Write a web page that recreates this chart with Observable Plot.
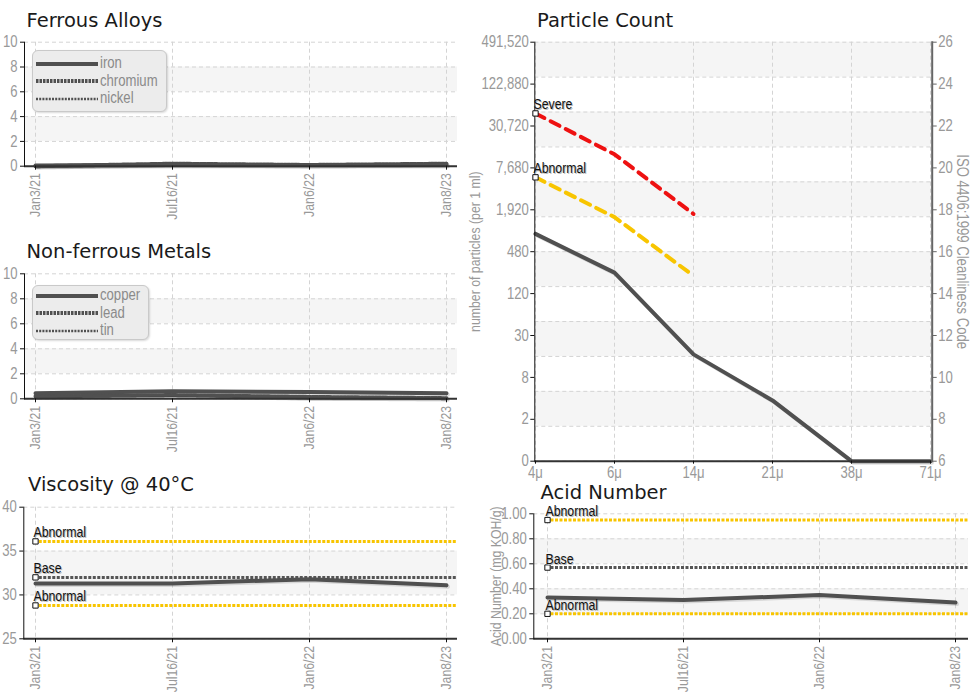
<!DOCTYPE html>
<html>
<head>
<meta charset="utf-8">
<script src="https://cdn.jsdelivr.net/npm/d3@7"></script>
<script src="https://cdn.jsdelivr.net/npm/@observablehq/plot@0.6"></script>
<style>
  html, body { margin: 0; padding: 0; background: #fff; }
  #root { position: relative; width: 976px; height: 695px; overflow: hidden; }
  .title { position: absolute; font-family: "DejaVu Sans", sans-serif; font-size: 19.5px; line-height: 1; color: #1a1a1a; white-space: nowrap; }
  .chart { position: absolute; }
  .chart svg { overflow: visible; }
  .legend { position: absolute; background: #ececec; border: 1px solid #c9c9c9; border-radius: 6px; box-shadow: 1px 1px 2px rgba(0,0,0,0.15); box-sizing: border-box; }
  .legend .lbl { position: absolute; font-family: "Liberation Sans", Arial, sans-serif; font-size: 16px; color: #8a8a8a; line-height: 16px; white-space: nowrap; transform: scaleX(0.82); transform-origin: 0 50%; }
  .legend svg { position: absolute; overflow: visible; }
</style>
</head>
<body>
<div id="root"></div>
<script>
// ---------------- data ----------------
const dates = ["Jan3/21", "Jul16/21", "Jan6/22", "Jan8/23"];

const iron = [0.05, 0.1, 0.1, 0.1];
const chromium = [0.0, 0.2, 0.1, 0.2];
const nickel = [0.0, 0.1, 0.05, 0.1];

const copper = [0.45, 0.6, 0.55, 0.45];
const lead = [0.2, 0.3, 0.15, 0.05];
const tin = [0.15, 0.3, 0.05, 0.05];

const viscosity = [31.3, 31.3, 31.8, 31.1];
const viscosityLimitValues = [36.1, 32.0, 28.8];
const viscosityLimitLabels = ["Abnormal", "Base", "Abnormal"];

const acidNumber = [0.33, 0.31, 0.35, 0.29];
const acidLimitValues = [0.95, 0.57, 0.2];
const acidLimitLabels = ["Abnormal", "Base", "Abnormal"];

const metalTicks = [0, 2, 4, 6, 8, 10];
const viscosityTicks = [25, 30, 35, 40];
const acidTicks = [0, 0.2, 0.4, 0.6, 0.8, 1.0];

const particleSizes = ["4μ", "6μ", "14μ", "21μ", "38μ", "71μ"];
const isoCodes = [6, 8, 10, 12, 14, 16, 18, 20, 22, 24, 26];
const countLabels = ["0", "2", "8", "30", "120", "480", "1,920", "7,680", "30,720", "122,880", "491,520"];
const sampleCode = [16.85, 15.0, 11.1, 8.9, 6, 6];
const severeCode = [22.6, 20.65, 17.8];
const abnormalCode = [19.55, 17.65, 14.85];

// ---------------- styles ----------------
const NARROW = '"Liberation Sans", Arial, sans-serif';
const SQUEEZE = 0.82;
const LINE = "#505050";
const GRID = "#d4d4d4";
const BAND = "#f5f5f5";
const YELLOW = "#f8c500";
const RED = "#ee1111";
const lineStyles = {
  solid: {strokeWidth: 4},
  dotted: {strokeWidth: 4, strokeDasharray: "2.5,1"},
  thin: {strokeWidth: 2.5, strokeDasharray: "2,1.2"}
};

const root = document.getElementById("root");

function condense(svg) {
  svg.querySelectorAll("text").forEach((t) => {
    const x = +t.getAttribute("x") || 0;
    const y = +t.getAttribute("y") || 0;
    const tr = t.getAttribute("transform") || "";
    t.setAttribute("transform", `${tr} translate(${x},${y}) scale(${SQUEEZE},1) translate(${-x},${-y})`);
  });
  return svg;
}

function addTitle(text, left, top) {
  const d = document.createElement("div");
  d.className = "title";
  d.textContent = text;
  d.style.left = left + "px";
  d.style.top = top + "px";
  root.appendChild(d);
}

function place(svg, left, top) {
  const d = document.createElement("div");
  d.className = "chart";
  d.style.left = left + "px";
  d.style.top = top + "px";
  d.appendChild(condense(svg));
  root.appendChild(d);
}

function addLegend(box, rows) {
  const d = document.createElement("div");
  d.className = "legend";
  Object.assign(d.style, {left: box.left + "px", top: box.top + "px", width: box.width + "px", height: box.height + "px"});
  rows.forEach((r) => {
    const st = lineStyles[r.style];
    const s = d3.create("svg").attr("width", 62).attr("height", 6)
      .style("left", "3px").style("top", (r.y - 3) + "px");
    s.append("line").attr("x1", 0).attr("x2", 62).attr("y1", 3).attr("y2", 3)
      .attr("stroke", LINE).attr("stroke-width", st.strokeWidth)
      .attr("stroke-dasharray", st.strokeDasharray || null);
    d.appendChild(s.node());
    const l = document.createElement("div");
    l.className = "lbl";
    l.textContent = r.label;
    l.style.left = "67px";
    l.style.top = (r.y - 8.5) + "px";
    d.appendChild(l);
  });
  root.appendChild(d);
}

function limitMarks(data, x, y) {
  return [
    Plot.dot(data, {x, y, symbol: "square", r: 3, fill: "white", stroke: "#111", strokeWidth: 1}),
    Plot.text(data, {x, y, text: "label", textAnchor: "start", lineAnchor: "bottom", dy: -3, dx: -1, fill: "#bbb", fontSize: 15}),
    Plot.text(data, {x, y, text: "label", textAnchor: "start", lineAnchor: "bottom", dy: -4, dx: -2, fill: "#111", fontSize: 15})
  ];
}

function timePanel(cfg) {
  const {width, height, mt, mr, mb, ml, padding, yTicks, yFont, yFormat, series, limits} = cfg;
  const frameW = width - ml - mr;
  const step = frameW / (dates.length - 1 + 2 * padding);
  const offset = step * padding;
  const bands = d3.pairs(yTicks).filter((_, i) => i % 2 === 1);
  const marks = [
    Plot.rect(bands, {y1: (d) => d[0], y2: (d) => d[1], fill: BAND}),
    Plot.ruleY(yTicks, {stroke: GRID, strokeDasharray: "4,3"}),
    Plot.ruleX(dates, {stroke: GRID, strokeDasharray: "4,3"})
  ];
  if (limits) {
    limits.forEach((lim) => {
      marks.push(Plot.ruleY([lim], {y: "value", stroke: lim.color, strokeWidth: 3, strokeDasharray: "3,1.5", insetLeft: offset}));
    });
  }
  series.forEach((s) => {
    const data = dates.map((date, i) => ({date, value: s.values[i]}));
    const st = lineStyles[s.style];
    marks.push(Plot.line(data, {x: "date", y: "value", stroke: "#000", strokeOpacity: 0.12, ...st, dx: 1.5, dy: 1.5}));
    marks.push(Plot.line(data, {x: "date", y: "value", stroke: LINE, ...st}));
  });
  marks.push(Plot.ruleY([yTicks[0]], {stroke: "#333", strokeWidth: 2}));
  marks.push(Plot.frame({anchor: "left", stroke: "#111"}));
  if (limits) marks.push(...limitMarks(limits, () => dates[0], "value"));
  marks.push(Plot.axisY(yTicks, {tickSize: 4, tickPadding: 3, stroke: "#111", fill: "#999", fontSize: yFont, tickFormat: yFormat, label: null}));
  marks.push(Plot.axisX({tickRotate: -90, tickSize: 4, tickPadding: 3, stroke: "#111", fill: "#999", fontSize: 15, label: null}));
  if (cfg.extra) marks.push(...cfg.extra);
  return Plot.plot({
    width, height,
    marginTop: mt, marginRight: mr, marginBottom: mb, marginLeft: ml,
    x: {type: "point", domain: dates, padding},
    y: {domain: [yTicks[0], yTicks[yTicks.length - 1]]},
    style: {fontFamily: NARROW, fontSize: "15px", background: "transparent", overflow: "visible"},
    marks
  });
}

// ---------------- Ferrous Alloys ----------------
addTitle("Ferrous Alloys", 26.5, 10.5);
place(timePanel({
  width: 470, height: 200, mt: 11.7, mr: 13, mb: 64.3, ml: 24, padding: 0.08,
  yTicks: metalTicks, yFont: 16,
  series: [
    {values: iron, style: "solid"},
    {values: chromium, style: "dotted"},
    {values: nickel, style: "thin"}
  ]
}), 0, 30);
addLegend({left: 31.7, top: 50, width: 135, height: 61.7}, [
  {label: "iron", style: "solid", y: 12.7},
  {label: "chromium", style: "dotted", y: 30},
  {label: "nickel", style: "thin", y: 47.5}
]);

// ---------------- Non-ferrous Metals ----------------
addTitle("Non-ferrous Metals", 26.5, 241.5);
place(timePanel({
  width: 470, height: 200, mt: 13.3, mr: 13, mb: 61.7, ml: 24, padding: 0.08,
  yTicks: metalTicks, yFont: 16,
  series: [
    {values: copper, style: "solid"},
    {values: lead, style: "dotted"},
    {values: tin, style: "thin"}
  ]
}), 0, 260);
addLegend({left: 31.7, top: 285, width: 117, height: 55}, [
  {label: "copper", style: "solid", y: 9.5},
  {label: "lead", style: "dotted", y: 27},
  {label: "tin", style: "thin", y: 44.5}
]);

// ---------------- Viscosity ----------------
addTitle("Viscosity @ 40°C", 28, 474.5);
const viscLimits = viscosityLimitValues.map((value, i) => ({value, label: viscosityLimitLabels[i], color: viscosityLimitLabels[i] === "Base" ? "#555" : YELLOW}));
place(timePanel({
  width: 470, height: 200, mt: 11.7, mr: 13, mb: 56.7, ml: 23.3, padding: 0.08,
  yTicks: viscosityTicks, yFont: 16,
  series: [{values: viscosity, style: "solid"}],
  limits: viscLimits
}), 0, 495);

// ---------------- Acid Number ----------------
addTitle("Acid Number", 540.5, 483);
const acidLimits = acidLimitValues.map((value, i) => ({value, label: acidLimitLabels[i], color: acidLimitLabels[i] === "Base" ? "#555" : YELLOW}));
place(timePanel({
  width: 506, height: 195, mt: 13.3, mr: 8, mb: 56.7, ml: 63.3, padding: 0.093,
  yTicks: acidTicks, yFont: 16, yFormat: d3.format(".2f"),
  series: [{values: acidNumber, style: "solid"}],
  limits: acidLimits,
  extra: [Plot.text(["Acid Number (mg KOH/g)"], {frameAnchor: "left", textAnchor: "middle", rotate: -90, dx: -38, text: (d) => d, fill: "#999", fontSize: 15})]
}), 470, 500);

// ---------------- Particle Count ----------------
addTitle("Particle Count", 537, 10.5);
const isoGrid = d3.range(13).map((k) => isoCodes[0] + k * (isoCodes[isoCodes.length - 1] - isoCodes[0]) / 12);
const sampleData = particleSizes.map((size, i) => ({size, code: sampleCode[i]}));
const severeData = severeCode.map((code, i) => ({size: particleSizes[i], code}));
const abnormalData = abnormalCode.map((code, i) => ({size: particleSizes[i], code}));
const particleLimits = [
  {size: particleSizes[0], code: severeCode[0], label: "Severe"},
  {size: particleSizes[0], code: abnormalCode[0], label: "Abnormal"}
];
const particle = Plot.plot({
  width: 506, height: 455,
  marginTop: 11.7, marginRight: 44.3, marginBottom: 24.3, marginLeft: 64.3,
  x: {type: "point", domain: particleSizes, padding: 0},
  y: {domain: [isoCodes[0], isoCodes[isoCodes.length - 1]]},
  style: {fontFamily: NARROW, fontSize: "16px", background: "transparent", overflow: "visible"},
  marks: [
    Plot.rect(d3.pairs(isoGrid).filter((_, i) => i % 2 === 1), {y1: (d) => d[0], y2: (d) => d[1], fill: BAND}),
    Plot.ruleY(isoGrid, {stroke: GRID, strokeDasharray: "4,3"}),
    Plot.ruleX(particleSizes, {stroke: GRID, strokeDasharray: "4,3"}),
    Plot.line(severeData, {x: "size", y: "code", stroke: RED, strokeWidth: 4, strokeDasharray: "10,7"}),
    Plot.line(abnormalData, {x: "size", y: "code", stroke: YELLOW, strokeWidth: 4, strokeDasharray: "10,7"}),
    Plot.line(sampleData, {x: "size", y: "code", stroke: "#000", strokeOpacity: 0.12, strokeWidth: 4, dx: 1.5, dy: 1.5}),
    Plot.line(sampleData, {x: "size", y: "code", stroke: LINE, strokeWidth: 4}),
    Plot.ruleY([isoCodes[0]], {stroke: "#333", strokeWidth: 2}),
    Plot.frame({anchor: "left", stroke: "#111"}),
    Plot.frame({anchor: "right", stroke: "#666", strokeWidth: 2}),
    ...limitMarks(particleLimits, "size", "code"),
    Plot.axisY(isoCodes, {anchor: "left", tickSize: 4, tickPadding: 2, stroke: "#111", fill: "#999", tickFormat: (d) => countLabels[isoCodes.indexOf(d)], label: null}),
    Plot.axisY(isoCodes, {anchor: "right", tickSize: 4, tickPadding: 2, stroke: "#666", fill: "#999", label: null}),
    Plot.axisX({tickSize: 3, tickPadding: 2, stroke: "#111", fill: "#999", label: null}),
    Plot.text(["number of particles (per 1 ml)"], {frameAnchor: "left", textAnchor: "middle", rotate: -90, dx: -60, text: (d) => d, fill: "#999", fontSize: 15}),
    Plot.text(["ISO 4406:1999 Cleanliness Code"], {frameAnchor: "right", textAnchor: "middle", rotate: 90, dx: 30, text: (d) => d, fill: "#999", fontSize: 16})
  ]
});
place(particle, 470, 30);
</script>
</body>
</html>
